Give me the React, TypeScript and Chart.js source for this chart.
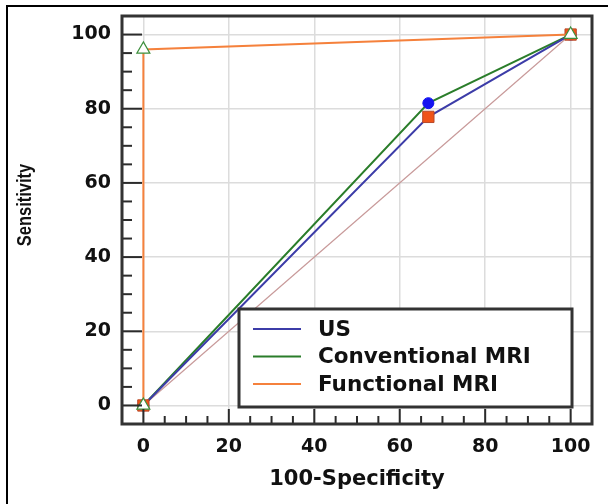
import React, { useEffect, useRef } from "react";
import { Chart, registerables } from "chart.js";

Chart.register(...registerables);

// ---- data ----
const seriesLabels = ["US", "Conventional MRI", "Functional MRI"];
const usX = [0, 66.7, 100];
const usY = [0, 77.8, 100];
const convX = [0, 66.7, 100];
const convY = [0, 81.5, 100];
const funcX = [0, 0, 100];
const funcY = [0, 96, 100];
const diagX = [0, 100];
const diagY = [0, 100];
const xTicks = [0, 20, 40, 60, 80, 100];
const yTicks = [0, 20, 40, 60, 80, 100];
const minorStep = 5;
const xTitle = "100-Specificity";
const yTitle = "Sensitivity";

const toPts = (xs: number[], ys: number[]) => xs.map((x, i) => ({ x, y: ys[i] }));

const framePlugin = {
  id: "frameTicks",
  afterDatasetsDraw(chart: any) {
    const { ctx, chartArea } = chart;
    const xs = chart.scales.x;
    const ys = chart.scales.y;
    ctx.save();
    ctx.strokeStyle = "#2b2b2b";
    ctx.lineWidth = 2;
    for (let v = 0; v <= 100; v += minorStep) {
      const major = v % 20 === 0;
      const px = xs.getPixelForValue(v);
      ctx.beginPath();
      ctx.moveTo(px, chartArea.bottom);
      ctx.lineTo(px, chartArea.bottom - (major ? 15 : 8));
      ctx.stroke();
      const py = ys.getPixelForValue(v);
      ctx.beginPath();
      ctx.moveTo(chartArea.left, py);
      ctx.lineTo(chartArea.left + (major ? 20 : 10), py);
      ctx.stroke();
    }
    ctx.lineWidth = 3;
    ctx.strokeStyle = "#333";
    ctx.strokeRect(chartArea.left, chartArea.top, chartArea.right - chartArea.left, chartArea.bottom - chartArea.top);
    ctx.restore();
  },
};

const yTitlePlugin = {
  id: "yTitle",
  afterDraw(chart: any) {
    const { ctx } = chart;
    ctx.save();
    ctx.translate(25, 205);
    ctx.rotate(-Math.PI / 2);
    ctx.scale(1, 1.28);
    ctx.font = "bold 16.5px 'Liberation Sans', Arial";
    ctx.fillStyle = "#111";
    ctx.textAlign = "center";
    ctx.textBaseline = "middle";
    ctx.fillText(yTitle, 0, 0);
    ctx.restore();
  },
};

const legendPlugin = {
  id: "innerLegend",
  afterDraw(chart: any) {
    const { ctx } = chart;
    const bx = 239, by = 309, bw = 333, bh = 98;
    ctx.save();
    ctx.fillStyle = "#fff";
    ctx.fillRect(bx, by, bw, bh);
    ctx.lineWidth = 3;
    ctx.strokeStyle = "#333";
    ctx.strokeRect(bx, by, bw, bh);
    ctx.font = "bold 21.5px 'DejaVu Sans'";
    ctx.textBaseline = "middle";
    ctx.textAlign = "left";
    const items = chart.data.datasets.filter((d: any) => seriesLabels.includes(d.label));
    items.forEach((d: any, i: number) => {
      const y = by + 20 + i * 27.5;
      ctx.strokeStyle = d.borderColor;
      ctx.lineWidth = 2;
      ctx.beginPath();
      ctx.moveTo(bx + 14, y);
      ctx.lineTo(bx + 62, y);
      ctx.stroke();
      ctx.fillStyle = "#111";
      ctx.fillText(d.label, bx + 79, y + 1);
    });
    ctx.restore();
  },
};

export default function App() {
  const ref = useRef<HTMLCanvasElement | null>(null);
  useEffect(() => {
    if (!ref.current) return;
    const tickFont = { family: "'DejaVu Sans'", size: 19, weight: "bold" as const };
    const chart = new Chart(ref.current, {
      type: "scatter",
      data: {
        datasets: [
          {
            label: seriesLabels[0],
            data: toPts(usX, usY),
            showLine: true,
            borderColor: "#3c3ca8",
            borderWidth: 2,
            pointStyle: "rect",
            pointRadius: 8,
            pointBackgroundColor: "#f05418",
            pointBorderColor: "#b84a2a",
            pointBorderWidth: 1,
            order: 1,
          },
          {
            label: seriesLabels[1],
            data: toPts(convX, convY),
            showLine: true,
            borderColor: "#2a7d2a",
            borderWidth: 2,
            pointStyle: "circle",
            pointRadius: 5.5,
            pointBackgroundColor: "#1414f0",
            pointBorderColor: "#1414f0",
            pointBorderWidth: 1,
            order: 2,
          },
          {
            label: seriesLabels[2],
            data: toPts(funcX, funcY),
            showLine: true,
            borderColor: "#f5813c",
            borderWidth: 2,
            pointStyle: "triangle",
            pointRadius: 7.5,
            pointBackgroundColor: "#ffffff",
            pointBorderColor: "#3d8f3d",
            pointBorderWidth: 1.2,
            order: 0,
          },
          {
            label: "diagonal",
            data: toPts(diagX, diagY),
            showLine: true,
            borderColor: "#c89a9a",
            borderWidth: 1.2,
            pointRadius: 0,
            order: 3,
          },
        ],
      },
      options: {
        animation: false,
        responsive: false,
        devicePixelRatio: 1,
        layout: { padding: { left: 0, top: 16, right: 16, bottom: 0 } },
        plugins: { legend: { display: false }, tooltip: { enabled: false } },
        scales: {
          x: {
            type: "linear",
            min: -5,
            max: 105,
            afterBuildTicks: (s: any) => { s.ticks = xTicks.map((v) => ({ value: v })); },
            afterFit: (s: any) => { s.height = 80; s.paddingLeft = 0; s.paddingRight = 0; },
            grid: { drawTicks: false, color: "#dcdcdc", lineWidth: 1.5 },
            border: { display: false },
            ticks: { font: tickFont, color: "#111", padding: 12, maxRotation: 0 },
            title: {
              display: true,
              text: xTitle,
              font: { family: "'DejaVu Sans'", size: 21, weight: "bold" },
              color: "#111",
              padding: { top: 0, bottom: 12 },
            },
          },
          y: {
            type: "linear",
            min: -5,
            max: 105,
            afterBuildTicks: (s: any) => { s.ticks = yTicks.map((v) => ({ value: v })); },
            afterFit: (s: any) => { s.width = 122; s.paddingTop = 0; s.paddingBottom = 0; },
            grid: { drawTicks: false, color: "#dcdcdc", lineWidth: 1.5 },
            border: { display: false },
            ticks: { font: tickFont, color: "#111", padding: 11 },
            title: { display: false, text: yTitle },
          },
        },
      },
      plugins: [framePlugin, legendPlugin, yTitlePlugin],
    });
    return () => chart.destroy();
  }, []);

  return (
    <div style={{ position: "fixed", left: 0, top: 0, width: 608, height: 504, overflow: "hidden", background: "#fff" }}>
      <div style={{ position: "absolute", left: 6, top: 5, width: 700, height: 700, borderLeft: "2px solid #000", borderTop: "2px solid #000" }} />
      <canvas ref={ref} width={608} height={504} style={{ position: "absolute", left: 0, top: 0, width: 608, height: 504 }} />
    </div>
  );
}
